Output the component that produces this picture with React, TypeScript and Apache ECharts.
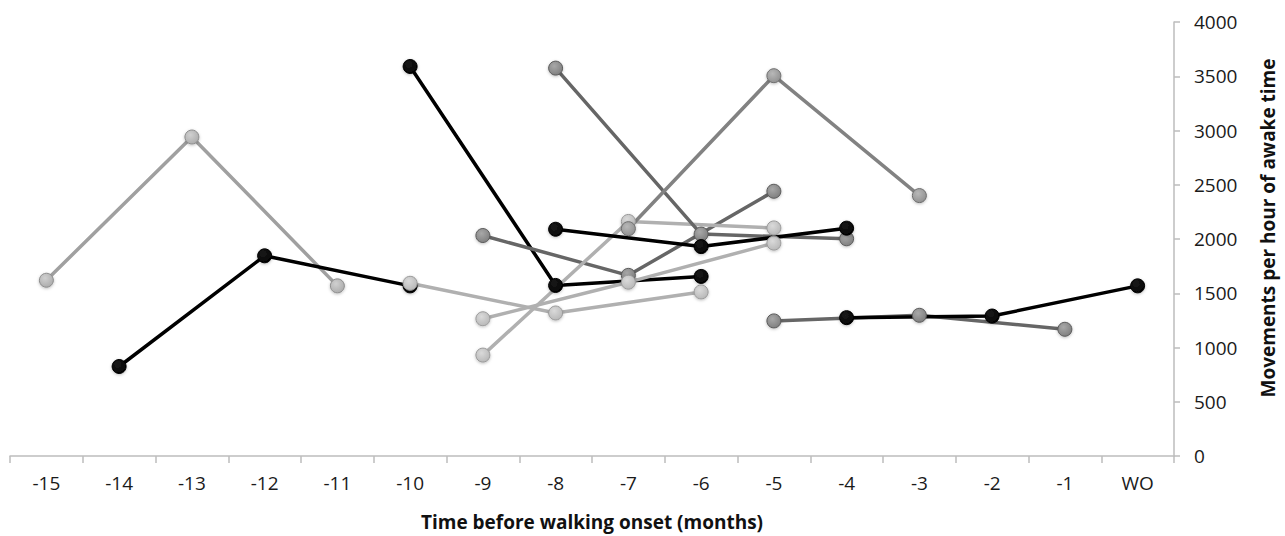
import React, { useEffect, useRef } from "react";
import * as echarts from "echarts";

const categories = ["-15", "-14", "-13", "-12", "-11", "-10", "-9", "-8", "-7", "-6", "-5", "-4", "-3", "-2", "-1", "WO"];
const yTicks = { min: 0, max: 4000, interval: 500 };

// Each infant: the three months it was observed, and the values
const s1x = ["-15", "-13", "-11"]; const s1y = [1620, 2940, 1568];
const s2x = ["-14", "-12", "-10"]; const s2y = [825, 1845, 1568];
const s3x = ["-10", "-8", "-6"]; const s3y = [3590, 1572, 1655];
const s4x = ["-10", "-8", "-6"]; const s4y = [1592, 1318, 1512];
const s5x = ["-9", "-7", "-5"]; const s5y = [2032, 1665, 2440];
const s6x = ["-9", "-7", "-5"]; const s6y = [1265, 1602, 1962];
const s7x = ["-9", "-7", "-5"]; const s7y = [930, 2162, 2102];
const s8x = ["-8", "-6", "-4"]; const s8y = [3575, 2045, 2002];
const s9x = ["-8", "-6", "-4"]; const s9y = [2090, 1930, 2100];
const s10x = ["-7", "-5", "-3"]; const s10y = [2095, 3505, 2400];
const s11x = ["-5", "-3", "-1"]; const s11y = [1245, 1297, 1168];
const s12x = ["-4", "-2", "WO"]; const s12y = [1275, 1290, 1568];

const FONT = "Open Sans";

function markerFill(light: string, dark: string) {
  return new echarts.graphic.RadialGradient(0.4, 0.35, 0.75, [
    { offset: 0, color: light },
    { offset: 1, color: dark },
  ]);
}

type Style = { line: string; hi: string; lo: string; border: string };
const BLACK: Style = { line: "#000000", hi: "#1a1a1a", lo: "#000000", border: "#000000" };
const DARK: Style = { line: "#666666", hi: "#a8a8a8", lo: "#7a7a7a", border: "#5a5a5a" };
const MID: Style = { line: "#828282", hi: "#b8b8b8", lo: "#8c8c8c", border: "#6e6e6e" };
const LIGHT: Style = { line: "#a0a0a0", hi: "#d0d0d0", lo: "#a8a8a8", border: "#8c8c8c" };
const LIGHTER: Style = { line: "#b0b0b0", hi: "#dadada", lo: "#b4b4b4", border: "#9a9a9a" };

function mk(xs: string[], ys: number[], st: Style) {
  return {
    type: "line",
    data: xs.map((x, i) => [x, ys[i]]),
    symbol: "circle",
    symbolSize: 14,
    lineStyle: { color: st.line, width: 3.5 },
    itemStyle: {
      color: markerFill(st.hi, st.lo),
      borderColor: st.border,
      borderWidth: 1,
      shadowColor: "rgba(0,0,0,0.25)",
      shadowBlur: 3,
      shadowOffsetY: 1,
    },
    emphasis: { disabled: true },
  };
}

export default function App() {
  const ref = useRef<HTMLDivElement>(null);
  useEffect(() => {
    if (!ref.current) return;
    const chart = echarts.init(ref.current, null, { renderer: "svg" });
    chart.setOption({
      animation: false,
      backgroundColor: "#ffffff",
      grid: { left: 10, right: 108, top: 22, bottom: 79 },
      xAxis: {
        type: "category",
        data: categories,
        boundaryGap: true,
        axisLine: { show: true, lineStyle: { color: "#bdbdbd", width: 1.5 } },
        axisTick: { show: true, interval: 0, length: 7, lineStyle: { color: "#bdbdbd", width: 1.5 } },
        axisLabel: { interval: 0, margin: 17, color: "#1a1a1a", fontFamily: FONT, fontSize: 19 },
        splitLine: { show: false },
        name: "Time before walking onset (months)",
        nameLocation: "middle",
        nameGap: 56,
        nameTextStyle: { fontFamily: FONT, fontSize: 19, fontWeight: "bold", color: "#111" },
      },
      yAxis: {
        type: "value",
        position: "right",
        min: yTicks.min,
        max: yTicks.max,
        interval: yTicks.interval,
        axisLine: { show: true, lineStyle: { color: "#bdbdbd", width: 1.5 } },
        axisTick: { show: true, length: 6, lineStyle: { color: "#bdbdbd", width: 1.5 } },
        axisLabel: {
          margin: 20,
          color: "#1a1a1a",
          fontFamily: FONT,
          fontSize: 19,
          formatter: (v: number) => String(v),
        },
        splitLine: { show: false },
        name: "Movements per hour of awake time",
        nameLocation: "middle",
        nameRotate: 90,
        nameGap: 84,
        nameTextStyle: { fontFamily: FONT, fontSize: 19, fontWeight: "bold", color: "#111", padding: [0, 0, 0, 22] },
      },
      series: [
        mk(s1x, s1y, LIGHT),
        mk(s2x, s2y, BLACK),
        mk(s3x, s3y, BLACK),
        mk(s4x, s4y, LIGHTER),
        mk(s5x, s5y, DARK),
        mk(s6x, s6y, LIGHTER),
        mk(s7x, s7y, LIGHTER),
        mk(s8x, s8y, DARK),
        mk(s9x, s9y, BLACK),
        mk(s10x, s10y, MID),
        mk(s11x, s11y, DARK),
        mk(s12x, s12y, BLACK),
      ],
    });
    return () => chart.dispose();
  }, []);
  return (
    <div
      ref={ref}
      style={{ position: "fixed", left: 0, top: 0, width: 1285, height: 536, background: "#fff" }}
    />
  );
}
